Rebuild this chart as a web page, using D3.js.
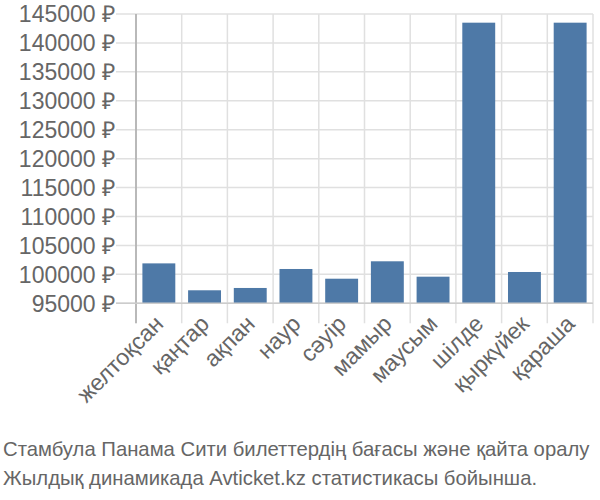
<!DOCTYPE html>
<html><head><meta charset="utf-8">
<script src="https://cdn.jsdelivr.net/npm/d3@7"></script>
<style>body{margin:0;background:#fff}svg{display:block}</style>
</head><body><svg id="c" width="600" height="500"></svg>
<script>
const categories = ["желтоқсан","қаңтар","ақпан","наур","сәуір","мамыр","маусым","шілде","қыркүйек","қараша"];
const values = [101900,97250,97650,100930,99250,102260,99600,143500,100410,143500];
const yTicks = [95000,100000,105000,110000,115000,120000,125000,130000,135000,140000,145000];
const captionLines = ["Стамбула Панама Сити билеттердің бағасы және қайта оралу","Жылдық динамикада Avticket.kz статистикасы бойынша."];

(function(){
const svg = d3.select("#c");
const font = "'Liberation Sans', Arial, sans-serif";
const pLeft = 136, pRight = 593, pTop = 14, base = 303.3, tickLen = 20;
const x = d3.scaleBand().domain(categories).range([pLeft, pRight]).paddingInner(0.28).paddingOuter(0.14);
const y = d3.scaleLinear().domain([95000,145000]).range([base, pTop]);
const step = x.step();

const bounds = d3.range(categories.length + 1).map(i => pLeft + i * step);
svg.append("g").selectAll("line").data(bounds).join("line")
  .attr("x1", d => d).attr("x2", d => d).attr("y1", pTop).attr("y2", base + tickLen)
  .attr("stroke", "#e0e0e0").attr("stroke-width", 1.5);
svg.append("g").selectAll("line").data(yTicks).join("line")
  .attr("x1", pLeft - tickLen).attr("x2", pRight).attr("y1", d => y(d)).attr("y2", d => y(d))
  .attr("stroke", "#e0e0e0").attr("stroke-width", 1.5);
svg.append("g").selectAll("rect").data(values).join("rect")
  .attr("x", (d,i) => x(categories[i])).attr("width", x.bandwidth())
  .attr("y", d => y(d)).attr("height", d => base - y(d))
  .attr("fill", "#4e79a7");
svg.append("line").attr("x1", pLeft).attr("x2", pLeft).attr("y1", pTop).attr("y2", base + tickLen)
  .attr("stroke", "#aaa").attr("stroke-width", 1.5);
svg.append("line").attr("x1", pLeft - tickLen).attr("x2", pRight).attr("y1", base).attr("y2", base)
  .attr("stroke", "#ccc").attr("stroke-width", 1.5);
svg.append("g").selectAll("text").data(yTicks).join("text")
  .attr("x", 115).attr("y", d => y(d)).attr("dy", "0.36em")
  .attr("text-anchor", "end").attr("font-family", font).attr("font-size", 23)
  .attr("fill", "#666").text(d => d + " ₽");
svg.append("g").selectAll("text").data(categories).join("text")
  .attr("transform", d => `translate(${x(d) + x.bandwidth()/2 + 6},${base + 22}) rotate(-45)`)
  .attr("text-anchor", "end").attr("font-family", font).attr("font-size", 23)
  .attr("fill", "#666").text(d => d);
svg.append("g").selectAll("text").data(captionLines).join("text")
  .attr("x", 3).attr("y", (d,i) => 456 + i * 29)
  .attr("font-family", font).attr("font-size", 20.3)
  .attr("fill", "#666").text(d => d);
})();
</script></body></html>
